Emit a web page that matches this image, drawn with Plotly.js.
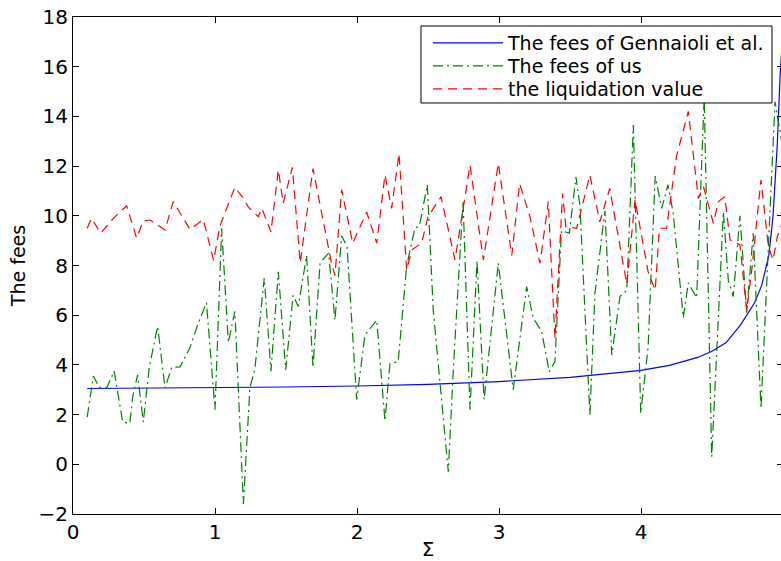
<!DOCTYPE html>
<html>
<head>
<meta charset="utf-8">
<script src="https://cdn.plot.ly/plotly-3.0.1.min.js"></script>
<style>
html,body{margin:0;padding:0;overflow:hidden;background:#fff;}
#chart{width:786px;height:561px;}
</style>
</head>
<body>
<div id="chart"></div>
<script>
// Gennaioli et al. fees (smooth curve)
var gennX = [0.1,0.5,1.0,1.5,2.0,2.5,3.0,3.5,4.0,4.2,4.4,4.5,4.6,4.7,4.8,4.85,4.9,4.93,4.96,4.98,5.0];
var gennY = [3.05,3.06,3.08,3.11,3.15,3.22,3.33,3.5,3.78,3.98,4.3,4.55,4.9,5.6,6.5,7.2,8.4,10.0,12.9,15.7,17.5];

// Fees of us (dash-dot, green)
var usX = [0.1,0.143,0.185,0.237,0.29,0.35,0.4,0.42,0.455,0.495,0.537,0.596,0.648,0.695,0.754,0.824,0.88,0.94,1.0,1.047,1.094,1.14,1.2,1.246,1.28,1.347,1.394,1.446,1.498,1.55,1.587,1.645,1.69,1.74,1.8,1.845,1.892,1.93,1.998,2.056,2.139,2.197,2.232,2.29,2.35,2.408,2.44,2.495,2.537,2.643,2.678,2.747,2.796,2.845,2.895,2.995,3.1,3.195,3.24,3.3,3.354,3.394,3.44,3.495,3.542,3.57,3.64,3.676,3.746,3.794,3.852,3.9,3.946,3.998,4.05,4.1,4.146,4.19,4.227,4.298,4.333,4.392,4.445,4.498,4.58,4.615,4.65,4.697,4.744,4.79,4.845,4.897,4.944,4.99];
var usY = [1.9,3.55,3.1,3.07,3.75,1.7,1.65,2.7,3.6,1.7,3.9,5.55,3.07,3.9,3.92,4.7,5.65,6.5,2.2,9.5,4.9,6.15,-1.6,3.1,3.8,7.5,3.75,7.75,3.8,6.8,6.35,8.4,3.9,8.1,8.5,5.8,9.2,8.75,2.6,5.2,5.8,1.75,4.05,4.13,8.0,9.5,9.6,11.25,6.2,-0.3,3.8,10.6,2.2,8.2,2.6,8.1,3.0,7.15,5.9,5.35,3.73,4.13,9.4,9.3,11.57,10.4,2.0,6.9,10.2,4.4,6.75,7.0,13.65,2.05,4.7,11.6,10.3,11.25,10.1,5.9,7.3,6.7,14.8,0.3,10.15,7.4,6.75,10.0,6.1,9.3,2.25,8.5,14.6,13.0];

// Liquidation value (dashed, red)
var liqX = [0.1,0.13,0.195,0.284,0.378,0.448,0.495,0.542,0.648,0.706,0.824,0.918,0.99,1.035,1.14,1.2,1.235,1.305,1.33,1.394,1.446,1.48,1.545,1.6,1.69,1.82,1.845,1.892,1.97,2.068,2.139,2.197,2.244,2.296,2.35,2.385,2.455,2.5,2.592,2.69,2.796,2.89,2.995,3.09,3.145,3.218,3.289,3.347,3.394,3.448,3.47,3.547,3.64,3.71,3.78,3.9,3.958,4.05,4.1,4.13,4.18,4.25,4.333,4.404,4.44,4.51,4.545,4.59,4.627,4.697,4.744,4.78,4.845,4.897,4.93,4.96,5.0];
var liqY = [9.5,9.9,9.3,9.9,10.4,9.1,9.8,9.83,9.43,10.57,9.45,9.85,8.2,9.6,11.15,10.7,10.35,9.96,10.3,9.35,11.85,10.5,11.95,8.1,11.9,8.1,7.6,11.05,8.9,10.15,8.9,11.65,10.3,12.5,7.82,8.62,8.9,9.96,10.77,8.22,12.04,8.22,12.11,8.4,11.3,9.96,8.09,10.57,5.07,10.9,9.56,9.5,11.64,9.76,11.1,7.25,10.65,7.75,7.0,9.5,9.5,12.4,14.2,10.7,11.17,9.7,10.57,10.77,9.03,8.83,6.21,7.82,11.45,8.76,8.22,9.16,9.8];

var names = ['The fees of Gennaioli et al.', 'The fees of us', 'the liquidation value'];
var xTicks = [0,1,2,3,4,5];
var yTicks = [-2,0,2,4,6,8,10,12,14,16,18];

var traces = [
  {x: gennX, y: gennY, name: names[0], type: 'scatter', mode: 'lines', legend: 'legend',
   line: {color: '#0000ff', width: 1.2}},
  {x: usX, y: usY, name: names[1], type: 'scatter', mode: 'lines', legend: 'legend2',
   line: {color: '#008000', width: 1.2, dash: '10px,4px,2px,4px'}},
  {x: liqX, y: liqY, name: names[2], type: 'scatter', mode: 'lines', legend: 'legend3',
   line: {color: '#ff0000', width: 1.2, dash: '9px,6px'}}
];

var titleFont = {family: 'DejaVu Sans, sans-serif', size: 19, color: '#000'};
var sigmaFont = {family: 'DejaVu Sans, sans-serif', size: 20, color: '#000'};
var tickFont = {family: 'DejaVu Sans, sans-serif', size: 20, color: '#000'};
var legFont = {family: 'DejaVu Sans, sans-serif', size: 19, color: '#000'};

function leg(y) {
  return {x: 0.5, y: y, xanchor: 'left', yanchor: 'middle',
    bgcolor: 'rgba(0,0,0,0)', borderwidth: 0, font: legFont, itemwidth: 70};
}

var layout = {
  width: 786, height: 561,
  margin: {l: 73, r: 3, t: 17, b: 47},
  paper_bgcolor: '#fff', plot_bgcolor: '#fff',
  font: titleFont,
  showlegend: true,
  legend: leg(0.9477),
  legend2: leg(0.9014),
  legend3: leg(0.8551),
  shapes: [{type: 'rect', xref: 'paper', yref: 'paper', layer: 'above',
    x0: 0.4901, x1: 0.9845, y0: 0.827, y1: 0.9819,
    fillcolor: '#fff', line: {color: '#000', width: 1}}],
  xaxis: {range: [0, 5], tickvals: xTicks, ticktext: xTicks.map(String),
    ticks: 'inside', ticklen: 6, tickcolor: '#000', showline: true, linecolor: '#000',
    linewidth: 1, mirror: 'ticks', showgrid: false, zeroline: false,
    tickfont: tickFont,
    title: {text: 'Σ', font: sigmaFont, standoff: 5}},
  yaxis: {range: [-2, 18], tickvals: yTicks,
    ticks: 'inside', ticklen: 6, tickcolor: '#000', showline: true, linecolor: '#000',
    linewidth: 1, mirror: 'ticks', showgrid: false, zeroline: false,
    tickfont: tickFont,
    title: {text: 'The fees', font: titleFont, standoff: 7}}
};

Plotly.newPlot('chart', traces, layout, {displayModeBar: false, staticPlot: true});
</script>
</body>
</html>
